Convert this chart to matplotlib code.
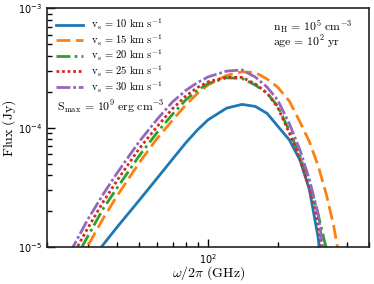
import matplotlib
matplotlib.use("Agg")
import matplotlib.pyplot as plt
import matplotlib.ticker as ticker
from matplotlib.font_manager import FontProperties
import numpy as np

# frequency grid (GHz)
freq = [25, 30, 35, 40, 50, 60, 70, 80, 90, 100, 120, 140, 160, 180,
        200, 225, 250, 275, 300, 325, 350, 400]

# flux (Jy) for each shock velocity
flux_10 = [4.70e-6, 7.28e-6, 1.055e-5, 1.46e-5, 2.46e-5, 3.79e-5, 5.48e-5, 7.52e-5,
           9.66e-5, 1.17e-4, 1.46e-4, 1.57e-4, 1.51e-4, 1.32e-4, 1.035e-4, 7.91e-5,
           5.38e-5, 3.02e-5, 1.20e-5, 3.62e-6, 8e-7, 1e-7]
flux_15 = [5.46e-6, 1.03e-5, 1.75e-5, 2.66e-5, 5.06e-5, 8.17e-5, 1.16e-4, 1.56e-4,
           1.95e-4, 2.29e-4, 2.74e-4, 2.94e-4, 2.90e-4, 2.56e-4, 2.19e-4, 1.67e-4,
           1.12e-4, 7.62e-5, 4.80e-5, 2.80e-5, 1.52e-5, 3.62e-6]
flux_20 = [6.57e-6, 1.24e-5, 2.11e-5, 3.10e-5, 5.79e-5, 9.16e-5, 1.30e-4, 1.72e-4,
           2.07e-4, 2.35e-4, 2.62e-4, 2.59e-4, 2.28e-4, 1.95e-4, 1.52e-4, 9.40e-5,
           5.81e-5, 3.39e-5, 1.86e-5, 9.87e-6, 2.47e-6, 2e-7]
flux_25 = [7.72e-6, 1.45e-5, 2.41e-5, 3.58e-5, 6.65e-5, 1.026e-4, 1.45e-4, 1.85e-4,
           2.18e-4, 2.43e-4, 2.65e-4, 2.64e-4, 2.33e-4, 1.95e-4, 1.49e-4, 9.03e-5,
           5.46e-5, 3.12e-5, 1.63e-5, 4.39e-6, 1e-6, 1e-7]
flux_30 = [8.91e-6, 1.715e-5, 2.79e-5, 4.13e-5, 7.62e-5, 1.18e-4, 1.65e-4, 2.06e-4,
           2.40e-4, 2.67e-4, 2.98e-4, 3.05e-4, 2.66e-4, 2.19e-4, 1.71e-4, 1.08e-4,
           6.52e-5, 3.66e-5, 1.90e-5, 6.21e-6, 1.5e-6, 1e-7]

velocities = [10, 15, 20, 25, 30]
fluxes = [flux_10, flux_15, flux_20, flux_25, flux_30]
colors = ["#1f77b4", "#ff7f0e", "#2ca02c", "#d62728", "#9467bd"]
styles = ["-", (0, (5, 2)), (0, (5, 1.5, 1, 1.5)), (0, (1, 1)), (0, (5, 1, 1, 1))]

fig = plt.figure(figsize=(3.74, 2.84), dpi=100)
ax = fig.add_axes([0.1265, 0.1292, 0.8609, 0.8416])

for v, fl, c, ls in zip(velocities, fluxes, colors, styles):
    ax.plot(freq, fl, color=c, linestyle=ls, lw=2,
            label=r"$\mathrm{v_s\, =\, %d\ km\ s^{-1}}$" % v)

ax.set_xscale("log")
ax.set_yscale("log")
ax.set_xlim(20, 500)
ax.set_ylim(1e-5, 1e-3)
ax.xaxis.set_minor_formatter(ticker.NullFormatter())

ax.tick_params(which="both", direction="in", top=False, right=False,
               labelsize=7, width=1)
ax.tick_params(which="major", length=6)
ax.tick_params(which="minor", length=3.5)
for s in ax.spines.values():
    s.set_linewidth(1.2)
    s.set_color("#222222")

ax.set_xlabel(r"$\omega/2\pi\ \mathrm{(GHz)}$", fontsize=10, math_fontfamily="cm",
              labelpad=-1)
ax.set_ylabel(r"$\mathrm{Flux\ (Jy)}$", fontsize=10, math_fontfamily="cm",
              labelpad=0)

prop = FontProperties(size=7.6, math_fontfamily="cm")
ax.legend(loc="upper left", frameon=False, prop=prop, handlelength=2.6,
          handletextpad=0.7, labelspacing=0.0, borderaxespad=0.4)

ax.text(0.03, 0.566, r"$\mathrm{S_{max}\, =\, 10^9\ erg\ cm^{-3}}$", transform=ax.transAxes,
        fontsize=8.5, math_fontfamily="cm", va="baseline")
ax.text(0.70, 0.955, r"$\mathrm{n_H\, =\, 10^5\ cm^{-3}}$" "\n" r"$\mathrm{age\, =\, 10^2\ yr}$",
        transform=ax.transAxes, fontsize=8.5, math_fontfamily="cm", va="top",
        linespacing=0.8)

fig.savefig("out.png", dpi=100)
